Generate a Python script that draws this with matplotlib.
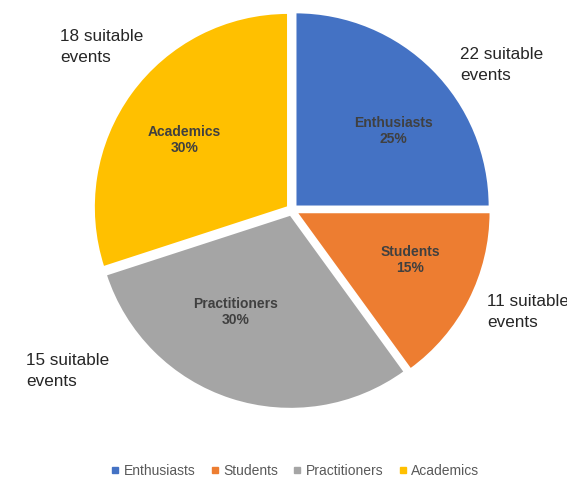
import numpy as np
import matplotlib.pyplot as plt
from matplotlib.lines import Line2D

plt.rcParams['font.family'] = ['Liberation Sans', 'DejaVu Sans']

groups = ['Enthusiasts', 'Students', 'Practitioners', 'Academics']
shares = [25, 15, 30, 30]
events = [22, 11, 15, 18]
colors = ['#4472C4', '#ED7D31', '#A5A5A5', '#FFC000']

# inner label placement (angle in degrees, radius) - Excel "best fit" look
label_polar = [(38, 0.66), (-23, 0.66), (-119, 0.60), (147, 0.66)]
# where the "N suitable events" notes sit (figure pixels, top-left of text)
note_pos = [(460, 47), (487, 294), (26, 353), (60, 29)]

fig = plt.figure(figsize=(5.67, 4.88), dpi=100)
W, H = 567, 488
ax = fig.add_axes([89 / W, 1 - 413 / H, 406 / W, 406 / H])

wedges, texts = ax.pie(
    shares, colors=colors, startangle=90, counterclock=False,
    explode=[0.025] * 4,
    wedgeprops=dict(edgecolor='white', linewidth=1.5))
for name, pct, (ang, r) in zip(groups, shares, label_polar):
    a = np.deg2rad(ang)
    ax.text(r * np.cos(a), r * np.sin(a), f'{name}\n{pct}%', ha='center',
            va='center', fontsize=10, fontweight='bold', color='#404040',
            linespacing=1.2)
ax.set_xlim(-1.045, 1.045)
ax.set_ylim(-1.045, 1.045)
ax.set_aspect('equal')

for n, (px, py) in zip(events, note_pos):
    fig.text(px / W, 1 - py / H, f'{n} suitable\nevents', fontsize=12.3,
             color='#262626', va='top', ha='left', linespacing=1.5)

handles = [Line2D([], [], marker='s', linestyle='', markersize=4,
                  markerfacecolor=c, markeredgecolor=c) for c in colors]
fig.legend(handles, groups, loc='center', bbox_to_anchor=(295 / W, 1 - 471 / H),
           ncol=4, frameon=False, fontsize=10, labelcolor='#595959',
           handlelength=0.6, handletextpad=0.3, columnspacing=1.1)

fig.savefig('out.png', dpi=100)
